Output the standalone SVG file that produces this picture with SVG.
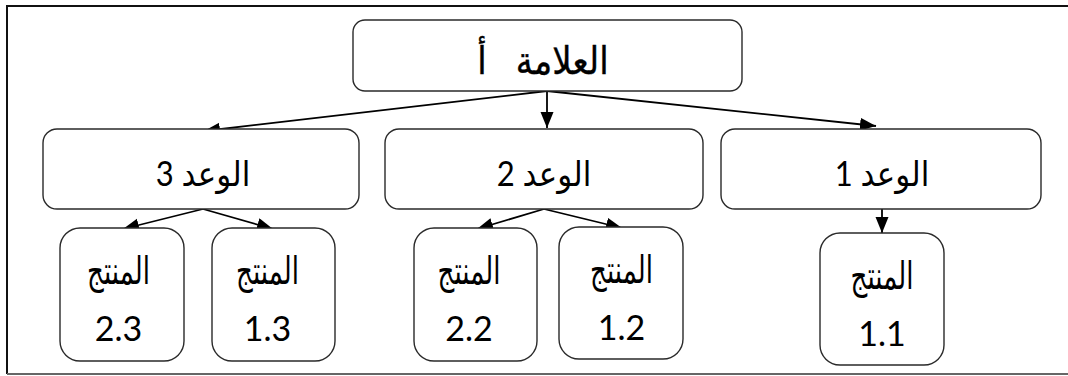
<svg xmlns="http://www.w3.org/2000/svg" width="1068" height="376" viewBox="0 0 1068 376">
  <style>
    .box { fill: #ffffff; stroke: #2a2a2a; stroke-width: 1.4; }
    .conn { fill: none; stroke: #000000; stroke-width: 1.8; marker-end: url(#arrow); }
    .title { font-family: "Liberation Serif", "DejaVu Sans", serif; font-size: 34px; fill: #000; text-anchor: middle; white-space: pre; word-spacing: 6px; stroke: #000; stroke-width: 0.35; }
    .lbl { font-family: "Lato", "DejaVu Sans", sans-serif; font-size: 31px; fill: #000; text-anchor: middle; }
    .ar { font-family: "DejaVu Sans", sans-serif; font-size: 29px; fill: #000; text-anchor: middle; }
    .num { font-family: "Lato", "Open Sans", sans-serif; font-size: 34px; fill: #000; text-anchor: middle; }
  </style>
  <defs>
    <marker id="arrow" markerUnits="userSpaceOnUse" markerWidth="18" markerHeight="14" refX="16" refY="6.5" orient="auto">
      <path d="M0,0 L16,6.5 L0,13 z" fill="#000"/>
    </marker>
  </defs>
  <rect x="0" y="0" width="1068" height="376" fill="#ffffff"/>
  <g id="frame">
    <path d="M7,374 L7,6 L1068,6" fill="none" stroke="#111" stroke-width="2"/>
    <path d="M7,374 L1068,374" fill="none" stroke="#666" stroke-width="2"/>
  </g>
  <g id="connectors">
    <path class="conn" d="M547,91 L204,131"/>
    <path class="conn" d="M547,91 L547,128"/>
    <path class="conn" d="M547,91 L876,126"/>
    <path class="conn" d="M203,209 L123,229"/>
    <path class="conn" d="M203,209 L273,229"/>
    <path class="conn" d="M544,209 L477,229"/>
    <path class="conn" d="M544,209 L622,228"/>
    <path class="conn" d="M882,209 L882,233"/>
  </g>
  <g id="brand">
    <rect class="box" x="353" y="20" width="389" height="71" rx="12"/>
    <text class="title" transform="translate(543,74) scale(1,1.12)" direction="rtl" xml:space="preserve">العلامة  أ</text>
  </g>
  <g id="promise3">
    <rect class="box" x="43" y="129" width="316" height="80" rx="14"/>
    <text class="lbl" transform="translate(203,186) scale(1,1.1)" direction="rtl">الوعد 3</text>
  </g>
  <g id="promise2">
    <rect class="box" x="385" y="129" width="318" height="80" rx="14"/>
    <text class="lbl" transform="translate(544,186) scale(1,1.1)" direction="rtl">الوعد 2</text>
  </g>
  <g id="promise1">
    <rect class="box" x="721" y="129" width="320" height="80" rx="14"/>
    <text class="lbl" transform="translate(882,186) scale(1,1.1)" direction="rtl">الوعد 1</text>
  </g>
  <g id="product23">
    <rect class="box" x="60" y="228" width="124" height="133" rx="20"/>
    <text class="ar" transform="translate(118.5,284) scale(0.9,1.3)" direction="rtl">المنتج</text>
    <text class="num" x="118.5" y="341">2.3</text>
  </g>
  <g id="product13">
    <rect class="box" x="212" y="228" width="123" height="133" rx="20"/>
    <text class="ar" transform="translate(267.5,284) scale(0.9,1.3)" direction="rtl">المنتج</text>
    <text class="num" x="267.5" y="341">1.3</text>
  </g>
  <g id="product22">
    <rect class="box" x="414" y="228" width="123" height="133" rx="20"/>
    <text class="ar" transform="translate(469,284) scale(0.9,1.3)" direction="rtl">المنتج</text>
    <text class="num" x="469" y="341">2.2</text>
  </g>
  <g id="product12">
    <rect class="box" x="559" y="227" width="124" height="132" rx="20"/>
    <text class="ar" transform="translate(621.5,283) scale(0.9,1.3)" direction="rtl">المنتج</text>
    <text class="num" x="621.5" y="340">1.2</text>
  </g>
  <g id="product11">
    <rect class="box" x="820" y="233" width="124" height="132" rx="20"/>
    <text class="ar" transform="translate(882,289) scale(0.9,1.3)" direction="rtl">المنتج</text>
    <text class="num" x="882" y="346">1.1</text>
  </g>
</svg>
